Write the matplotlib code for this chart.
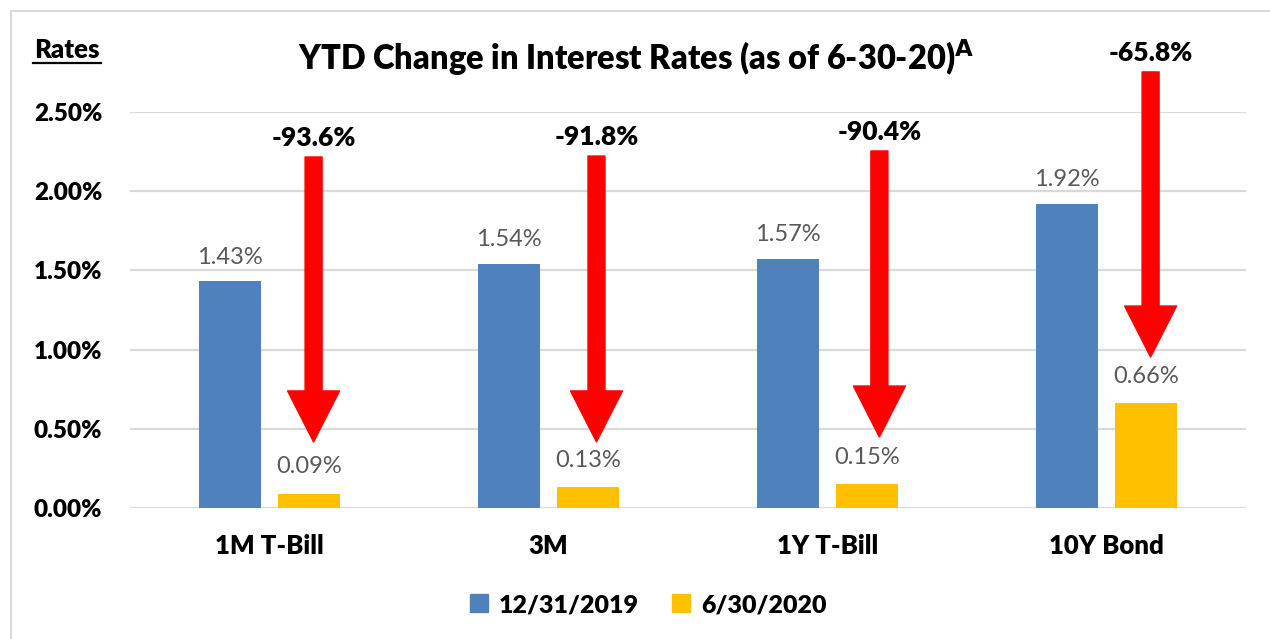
import matplotlib
matplotlib.use("Agg")
import matplotlib.pyplot as plt
from matplotlib.lines import Line2D
from matplotlib.patches import Patch
import numpy as np

categories = ["1M T-Bill", "3M", "1Y T-Bill", "10Y Bond"]
rates_2019 = [1.43, 1.54, 1.57, 1.92]
rates_2020 = [0.09, 0.13, 0.15, 0.66]
series_names = ["12/31/2019", "6/30/2020"]
change_labels = ["-93.6%", "-91.8%", "-90.4%", "-65.8%"]
arrow_top = [2.216, 2.222, 2.254, 2.753]
arrow_tip = [0.417, 0.417, 0.448, 0.953]
yticks = [0.0, 0.5, 1.0, 1.5, 2.0, 2.5]

plt.rcParams['font.family'] = ['Lato', 'DejaVu Sans']
BW = "heavy"

blue = "#4f81bd"
gold = "#ffc000"
grid_c = "#d9d9d9"

fig = plt.figure(figsize=(12.7, 6.39), dpi=100)
W, H = 1270, 639
ax = fig.add_axes([130 / W, 1 - 508 / H, (1246 - 130) / W, (508 - 112) / H])

x = np.arange(len(categories))
bw = 0.222
off = 0.142
ax.bar(x - off, rates_2019, bw, color=blue, zorder=2)
ax.bar(x + off, rates_2020, bw, color=gold, zorder=2)

for xi, v in zip(x, rates_2019):
    ax.annotate(f"{v:.2f}%", (xi - off, v), xytext=(0, 10), textcoords="offset points",
                ha="center", va="bottom", fontsize=17, color="#595959")
for xi, v in zip(x, rates_2020):
    ax.annotate(f"{v:.2f}%", (xi + off, v), xytext=(0, 12), textcoords="offset points",
                ha="center", va="bottom", fontsize=17, color="#595959")

ax.set_xlim(-0.5, len(categories) - 0.5)
ax.set_ylim(0, 2.5)
ax.set_yticks(yticks)
ax.set_yticklabels([f"{t:.2f}%" for t in yticks], fontsize=17.5, fontweight=BW)
ax.set_xticks(x)
ax.set_xticklabels(categories, fontsize=18.5, fontweight=BW)
ax.tick_params(axis="y", length=0, pad=20)
ax.tick_params(axis="x", length=0, pad=19)
ax.grid(axis="y", color=grid_c, linewidth=1.6, zorder=0)
for s in ax.spines.values():
    s.set_visible(False)

arrow_dx = [0.158, 0.172, 0.186, 0.158]
px2pt = 72 / 100
for xi, dx, top, tip, lab in zip(x, arrow_dx, arrow_top, arrow_tip, change_labels):
    ax.annotate("", xy=(xi + dx, tip), xytext=(xi + dx, top),
                arrowprops=dict(arrowstyle=f"simple,head_length={51*px2pt},head_width={52*px2pt},tail_width={17*px2pt}",
                                color="red", shrinkA=0, shrinkB=0, mutation_scale=1),
                annotation_clip=False, zorder=3)
    ax.annotate(lab, (xi + dx, top), xytext=(0, 5), textcoords="offset points",
                ha="center", va="bottom", fontsize=19, fontweight=BW, color="black",
                annotation_clip=False)

fig.text(636 / W, 1 - 58 / H, r"YTD Change in Interest Rates (as of 6-30-20)$^{\mathbf{A}}$",
         ha="center", va="center", fontsize=23.5, fontweight=BW)
fig.text(67 / W, 1 - 50 / H, "Rates", ha="center", va="center", fontsize=18.5, fontweight=BW)
fig.add_artist(Line2D([33 / W, 101 / W], [1 - 63 / H, 1 - 63 / H], color="black", linewidth=1.6))

# frame border (top and left)
fig.add_artist(Line2D([11 / W, 1.0], [1 - 11 / H, 1 - 11 / H], color=grid_c, linewidth=1.5))
fig.add_artist(Line2D([11 / W, 11 / W], [0, 1 - 11 / H], color=grid_c, linewidth=1.5))

handles = [Patch(color=blue), Patch(color=gold)]
fig.legend(handles, series_names, loc="center", bbox_to_anchor=(648 / W, 1 - 605 / H), ncol=2,
           frameon=False, prop=dict(size=18, weight=BW), handlelength=0.72, handleheight=0.72,
           handletextpad=0.45, columnspacing=1.3)

fig.savefig("out.png", dpi=100)
